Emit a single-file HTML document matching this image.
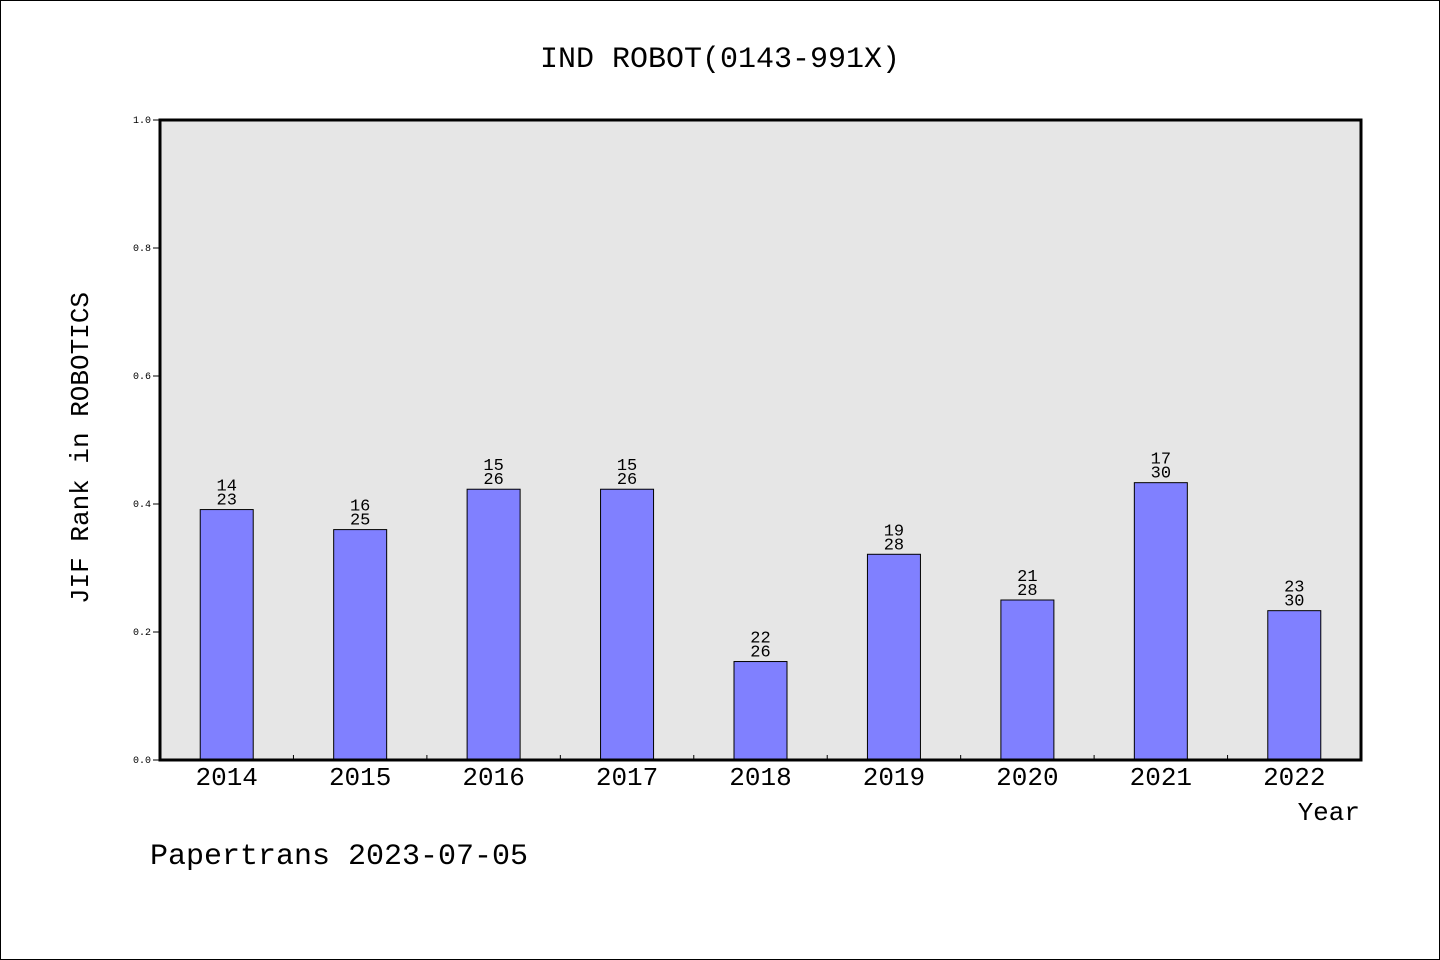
<!DOCTYPE html>
<html><head><meta charset="utf-8"><style>
html,body{margin:0;padding:0;background:#fff}
svg{display:block}
text{font-family:"WenQuanYi Zen Hei","Liberation Mono",monospace;fill:#000}
</style></head><body>
<svg id="chart" width="1440" height="960">
<rect x="0.5" y="0.5" width="1439" height="959" fill="#fff" stroke="#000"/>
<text x="720" y="67" font-size="30" text-anchor="middle">IND ROBOT(0143-991X)</text>
<rect x="160" y="120" width="1201" height="640" fill="#e6e6e6"/>
<g id="bars"></g>
<rect x="160" y="120" width="1201" height="640" fill="none" stroke="#000" stroke-width="3"/>
<text transform="translate(88,448) rotate(-90)" font-size="26" text-anchor="middle">JIF Rank in ROBOTICS</text>
<text x="1360" y="820" font-size="26" text-anchor="end">Year</text>
<text x="150" y="864" font-size="30">Papertrans 2023-07-05</text>
</svg>
<script>
const years=["2014","2015","2016","2017","2018","2019","2020","2021","2022"];
const ranks=[14,16,15,15,22,19,21,17,23];
const totals=[23,25,26,26,26,28,28,30,30];
const yTicks=[0,0.2,0.4,0.6,0.8,1.0];
const yTickLabels=["0.0","0.2","0.4","0.6","0.8","1.0"];
const NS="http://www.w3.org/2000/svg";
const X0=160,X1=1361,Y0=760,Y1=120;
const band=(X1-X0)/years.length;
const xc=i=>X0+band*(i+0.5);
const y=v=>Y0-(Y0-Y1)*v;
const g=document.getElementById('bars');
function mk(t,a){const e=document.createElementNS(NS,t);for(const k in a)e.setAttribute(k,a[k]);g.appendChild(e);return e;}
yTicks.forEach((v,i)=>{
 const l=mk('line',{x1:153,x2:160,y1:y(v),y2:y(v),stroke:'#000'});
 
 
 const t=mk('text',{x:151,y:y(v)+3,'font-size':10,'text-anchor':'end'});
 t.textContent=yTickLabels[i];
 
 
});
for(let i=1;i<years.length;i++){
 const l=mk('line',{x1:X0+band*i,x2:X0+band*i,y1:755,y2:760,stroke:'#000'});
 
 
}
years.forEach((yr,i)=>{
 const v=1-ranks[i]/totals[i];
 const bw=53;
 const r=mk('rect',{x:xc(i)-bw/2,y:y(v),width:bw,height:Y0-y(v),fill:'#8080ff',stroke:'#000','stroke-width':1});
 
 
 const t1=mk('text',{x:xc(i),y:y(v)-19,'font-size':17,'text-anchor':'middle'});
 t1.textContent=ranks[i];
 
 
 const t2=mk('text',{x:xc(i),y:y(v)-5,'font-size':17,'text-anchor':'middle'});
 t2.textContent=totals[i];
 
 
 const xl=mk('text',{x:xc(i),y:785,'font-size':26,'text-anchor':'middle'});
 xl.textContent=yr;
 
 
});
</script>
</body></html>
